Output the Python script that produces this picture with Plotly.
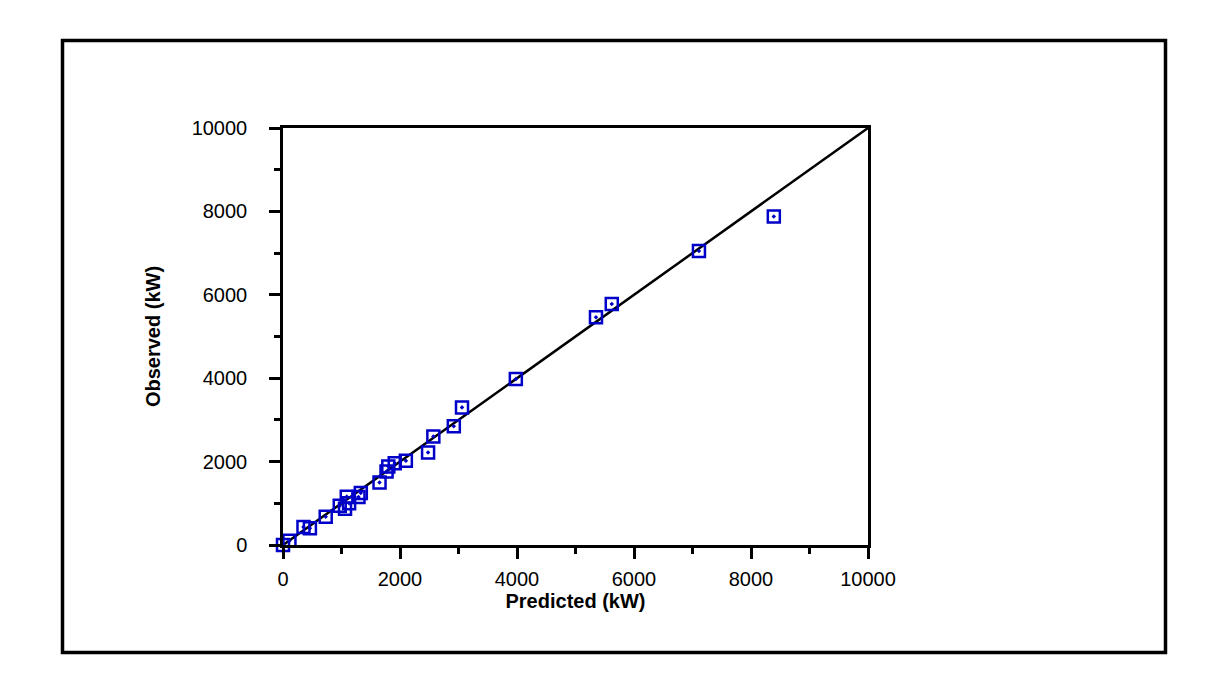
import plotly.graph_objects as go

predicted = [0, 110, 350, 460, 730, 970, 1060, 1090, 1130, 1290, 1330, 1650, 1770,
             1800, 1910, 2100, 2480, 2570, 2920, 3060, 3980, 5350, 5620, 7110, 8390]
observed = [0, 100, 430, 400, 680, 940, 870, 1160, 1000, 1150, 1250, 1500, 1760,
            1880, 1960, 2020, 2220, 2600, 2850, 3300, 3980, 5460, 5780, 7050, 7880]
line_x = [0, 10000]
line_y = [0, 10000]
tick_vals = [0, 2000, 4000, 6000, 8000, 10000]
tick_text = ["0", "2000", "4000", "6000", "8000", "10000"]

fig = go.Figure()
fig.add_trace(go.Scatter(x=line_x, y=line_y, mode="lines",
                         line=dict(color="black", width=2.5), showlegend=False,
                         cliponaxis=False))
fig.add_trace(go.Scatter(x=predicted, y=observed, mode="markers",
                         marker=dict(symbol="square-open-dot", size=12, color="#0000C8",
                                     line=dict(width=2.5, color="#0000C8")),
                         showlegend=False, cliponaxis=False))

L, R, T, B = 283, 868, 128, 545
W, H = 1225, 694
pw, ph = R - L, B - T

axis_common = dict(
    range=[0, 10000], tickvals=tick_vals, ticktext=tick_text,
    showgrid=False, zeroline=False, showline=True, linecolor="black", linewidth=2.5,
    mirror=True, ticks="outside", ticklen=11, tickwidth=2.5, tickcolor="black",
    minor=dict(tickvals=[1000, 3000, 5000, 7000, 9000], ticks="outside", ticklen=6,
               tickwidth=2.5, tickcolor="black"),
    tickfont=dict(family="Liberation Sans, Arial", size=20, color="black"),
    fixedrange=True,
)

fig.update_layout(
    width=W, height=H,
    margin=dict(l=L, r=W - R, t=T, b=H - B, autoexpand=False),
    plot_bgcolor="white", paper_bgcolor="white",
    xaxis=dict(**axis_common,
               title=dict(text="<b>Predicted (kW)</b>", standoff=6,
                          font=dict(family="Liberation Sans, Arial", size=20, color="black")),
               ticklabelstandoff=3),
    yaxis=dict(**axis_common,
               title=dict(text="<b>Observed (kW)</b>", standoff=26,
                          font=dict(family="Liberation Sans, Arial", size=20, color="black")),
               ticklabelstandoff=18),
    shapes=[dict(type="rect", xref="paper", yref="paper",
                 x0=(62.5 - L) / pw, x1=(1165.5 - L) / pw,
                 y0=(B - 652.5) / ph, y1=(B - 40.5) / ph,
                 line=dict(color="black", width=3.5), fillcolor="rgba(0,0,0,0)")],
)

fig.write_html("out.html")
